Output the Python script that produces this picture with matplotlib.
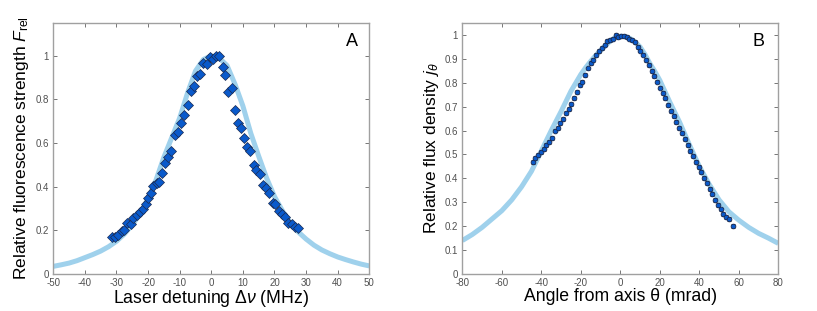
import matplotlib
matplotlib.use("Agg")
import matplotlib.pyplot as plt
from matplotlib.ticker import FuncFormatter, MultipleLocator

plt.rcParams['font.family'] = ['Liberation Sans', 'DejaVu Sans']
plt.rcParams['mathtext.fontset'] = 'custom'
plt.rcParams['mathtext.rm'] = 'Liberation Sans'
plt.rcParams['mathtext.it'] = 'Liberation Sans:italic'
plt.rcParams['mathtext.bf'] = 'Liberation Sans:bold'

# ---------------- Panel A data ----------------
a_x = [-31.3, -30.5, -29.4, -28.4, -27.6, -26.8, -25.5, -24.7, -23.6, -22.6,
       -21.5, -20.5, -19.9, -19.2, -18.4, -17.3, -16.5, -15.5, -14.5, -13.6,
       -12.6, -11.5, -10.4, -9.6, -8.5, -7.5, -6.5, -5.5, -4.4, -3.6,
       -2.5, -1.5, -0.4, 0.6, 1.5, 2.4, 3.6, 4.5, 5.4, 6.4,
       7.5, 8.3, 9.3, 10.3, 11.4, 12.4, 13.5, 14.3, 15.4, 16.5,
       17.3, 18.4, 19.4, 20.3, 21.3, 22.3, 23.3, 24.4, 25.4, 26.5, 27.5]
a_y = [0.168, 0.168, 0.180, 0.195, 0.200, 0.235, 0.228, 0.255, 0.270, 0.282,
       0.300, 0.322, 0.350, 0.370, 0.405, 0.415, 0.420, 0.463, 0.510, 0.535,
       0.565, 0.635, 0.650, 0.690, 0.727, 0.775, 0.840, 0.860, 0.905, 0.915,
       0.968, 0.963, 0.994, 0.986, 1.000, 1.000, 0.948, 0.910, 0.834, 0.850,
       0.753, 0.692, 0.670, 0.623, 0.582, 0.564, 0.500, 0.476, 0.460, 0.410,
       0.396, 0.372, 0.326, 0.320, 0.290, 0.277, 0.262, 0.235, 0.229, 0.216, 0.213]
a_err = [0.012] * len(a_x)

a_fit_x = [-50, -47.5, -45, -42.5, -40, -37.5, -35, -32.5, -30, -27.5, -25, -22.5,
           -20, -17.5, -15, -12.5, -10, -7.5, -5, -2.5, 0, 2.5, 5, 7.5, 10, 12.5,
           15, 17.5, 20, 22.5, 25, 27.5, 30, 32.5, 35, 37.5, 40, 42.5, 45, 47.5, 50]
a_fit_y = [0.035, 0.042, 0.050, 0.061, 0.075, 0.089, 0.105, 0.125, 0.150, 0.183,
           0.225, 0.278, 0.345, 0.430, 0.535, 0.625, 0.715, 0.830, 0.930, 0.983,
           1.000, 0.990, 0.955, 0.870, 0.770, 0.645, 0.540, 0.440, 0.355, 0.290,
           0.235, 0.193, 0.160, 0.132, 0.110, 0.093, 0.078, 0.066, 0.055, 0.045, 0.037]

# ---------------- Panel B data ----------------
b_x = [-44.4, -43.0, -41.6, -40.2, -38.8, -37.4, -36.0, -34.6, -33.2, -31.8,
       -30.4, -29.0, -27.6, -26.2, -24.8, -23.4, -22.0, -20.6, -19.2, -17.8,
       -16.4, -15.0, -13.6, -12.2, -10.8, -9.4, -8.0, -6.6, -5.2, -3.8,
       -2.4, -1.0, 0.4, 1.8, 3.2, 4.6, 6.0, 7.4, 8.8, 10.2,
       11.6, 13.0, 14.4, 15.8, 17.2, 18.6, 20.0, 21.4, 22.8, 24.2,
       25.6, 27.0, 28.4, 29.8, 31.2, 32.6, 34.0, 35.4, 36.8, 38.2,
       39.6, 41.0, 42.4, 43.8, 45.2, 46.6, 48.0, 49.4, 50.8, 52.2,
       53.6, 55.0, 57.0]
b_y = [0.468, 0.485, 0.497, 0.510, 0.522, 0.540, 0.552, 0.568, 0.600, 0.612,
       0.632, 0.650, 0.672, 0.690, 0.712, 0.738, 0.762, 0.792, 0.805, 0.832,
       0.860, 0.882, 0.895, 0.915, 0.932, 0.945, 0.960, 0.975, 0.978, 0.985,
       1.000, 0.993, 0.995, 0.995, 0.992, 0.985, 0.980, 0.970, 0.950, 0.935,
       0.918, 0.895, 0.875, 0.850, 0.830, 0.805, 0.780, 0.758, 0.735, 0.706,
       0.682, 0.660, 0.635, 0.612, 0.590, 0.565, 0.540, 0.515, 0.495, 0.470,
       0.448, 0.428, 0.402, 0.380, 0.355, 0.335, 0.310, 0.290, 0.270, 0.250,
       0.240, 0.230, 0.200]
b_err = [0.008] * len(b_x)

b_fit_x = [-80, -75, -70, -65, -60, -55, -50, -45, -40, -35, -30, -25, -20, -17.5,
           -15, -12.5, -10, -7.5, -5, -2.5, 0, 2.5, 5, 7.5, 10, 12.5, 15, 17.5, 20,
           25, 30, 35, 40, 45, 50, 55, 60, 65, 70, 75, 80]
b_fit_y = [0.140, 0.165, 0.195, 0.230, 0.265, 0.310, 0.365, 0.430, 0.515, 0.600,
           0.680, 0.765, 0.835, 0.864, 0.890, 0.914, 0.935, 0.957, 0.975, 0.990,
           0.995, 0.993, 0.985, 0.970, 0.950, 0.918, 0.880, 0.847, 0.810,
           0.720, 0.635, 0.540, 0.450, 0.375, 0.310, 0.260, 0.225, 0.195,
           0.170, 0.150, 0.128]

# ---------------- Styles ----------------
fit_color = '#9fd1ec'
pt_color = '#0a5acb'
spine_color = '#a0a0a0'
tick_color = '#505050'

fig = plt.figure(figsize=(8.17, 3.11), dpi=100)
axA = fig.add_axes([0.0652, 0.119, 0.3868, 0.807])
axB = fig.add_axes([0.5659, 0.119, 0.3868, 0.807])

fmt = FuncFormatter(lambda v, p: ('%g' % round(v, 3)) if abs(v) > 1e-9 else '0')

def style(ax):
    for s in ax.spines.values():
        s.set_color(spine_color)
        s.set_linewidth(1.0)
    ax.tick_params(direction='in', length=3, width=0.6, color='#606060',
                   labelsize=7, labelcolor=tick_color, top=True, right=True, pad=3)
    ax.xaxis.set_major_formatter(fmt)
    ax.yaxis.set_major_formatter(fmt)

# Panel A
axA.plot(a_fit_x, a_fit_y, color=fit_color, lw=3.6, solid_capstyle='butt',
         solid_joinstyle='round', zorder=1)
axA.errorbar(a_x, a_y, yerr=a_err, fmt='D', ms=5.2, mfc=pt_color, mec='#1a2a50',
             mew=0.5, ecolor='#333333', elinewidth=0.6, capsize=1.5, capthick=0.6, zorder=3)
axA.set_xlim(-50, 50)
axA.set_ylim(0, 1.15)
axA.xaxis.set_major_locator(MultipleLocator(10))
axA.yaxis.set_major_locator(MultipleLocator(0.2))
style(axA)
axA.set_xlabel(r'Laser detuning $\Delta\nu$ (MHz)', fontsize=12.7, labelpad=0)
axA.set_ylabel(r'Relative fluorescence strength $F_{\mathrm{rel}}$', fontsize=12.5, labelpad=3)
axA.text(0.965, 0.96, 'A', transform=axA.transAxes, ha='right', va='top', fontsize=13)

# Panel B
axB.plot(b_fit_x, b_fit_y, color=fit_color, lw=3.6, solid_capstyle='butt',
         solid_joinstyle='round', zorder=1)
axB.errorbar(b_x, b_y, yerr=b_err, fmt='o', ms=3.4, mfc=pt_color, mec='#1a2a50',
             mew=0.6, ecolor='#333333', elinewidth=0.5, capsize=1.2, capthick=0.5, zorder=3)
axB.set_xlim(-80, 80)
axB.set_ylim(0, 1.05)
axB.xaxis.set_major_locator(MultipleLocator(20))
axB.yaxis.set_major_locator(MultipleLocator(0.1))
style(axB)
axB.set_xlabel(r'Angle from axis θ (mrad)', fontsize=12.7, labelpad=0)
axB.set_ylabel(r'Relative flux density $j_\theta$', fontsize=12.5, labelpad=3)
axB.text(0.955, 0.96, 'B', transform=axB.transAxes, ha='right', va='top', fontsize=13)

fig.savefig('out.png', dpi=100)
